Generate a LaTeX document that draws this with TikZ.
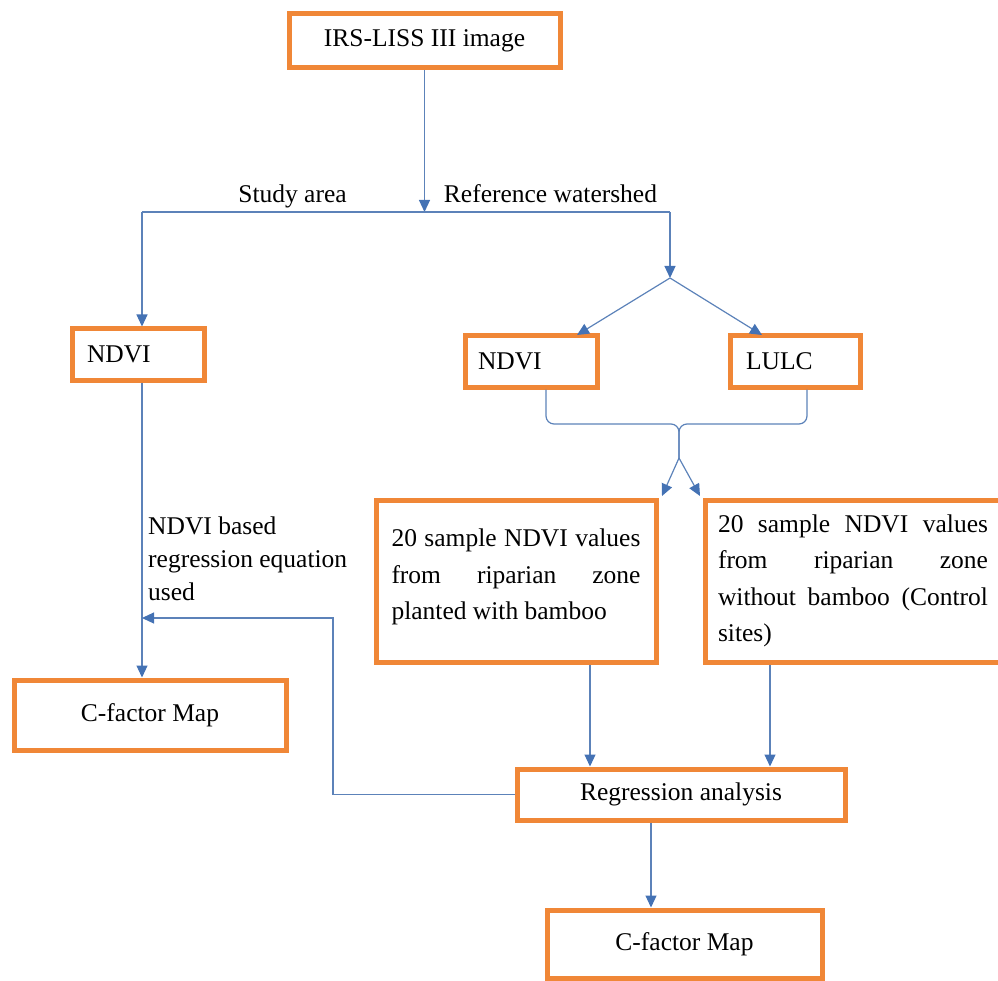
\documentclass[tikz,border=0pt]{standalone}
\usepackage{fontspec}
\setmainfont{Liberation Serif}
\newfontfamily\tnrfont{Liberation Serif}
\usetikzlibrary{arrows.meta}
\definecolor{boxorange}{RGB}{240,135,55}
\definecolor{lineblue}{RGB}{92,130,185}
\definecolor{tipblue}{RGB}{68,114,180}
\newcommand{\bxfont}{\tnrfont\fontsize{25.5}{36.5}\selectfont}
\tikzset{
  box/.style={draw=boxorange, line width=5pt, fill=white, rectangle,
    font=\bxfont, text=black, inner ysep=0pt},
  conn/.style={draw=lineblue, line width=1.2pt},
  arr/.style={conn, -{Triangle[length=12pt,width=11pt,color=tipblue]}},
  lbl/.style={font=\bxfont, text=black, inner sep=0pt},
}
\begin{document}
\begin{tikzpicture}[x=1pt,y=-1pt]
\useasboundingbox (0,0) rectangle (998,981);
\clip (0,0) rectangle (998,981);
% boxes
\node[box, minimum width=271pt, minimum height=54pt] (top) at (424.5,41) {\tnrfont IRS-LISS III image};
\node[box, text width=102pt, inner xsep=15pt, minimum height=51pt, align=left] (ndviL) at (138,354.5) {\tnrfont NDVI};
\node[box, text width=106pt, inner xsep=13pt, minimum height=51pt, align=left] (ndviM) at (531,361.5) {\tnrfont NDVI};
\node[box, text width=98pt, inner xsep=16pt, minimum height=51pt, align=left] (lulc) at (795,361.5) {\tnrfont LULC};
\node[box, text width=249pt, inner xsep=15.5pt, minimum height=162pt, align=justify] (s1) at (516,581)
  {\tnrfont 20 sample NDVI values\linebreak from riparian zone\linebreak planted with bamboo\vspace{8pt}};
\node[box, text width=270pt, inner xsep=13pt, minimum height=162pt, align=justify] (s2) at (853,581)
  {\tnrfont 20 sample NDVI values\linebreak from riparian zone\linebreak without bamboo (Control\linebreak sites)};
\node[box, minimum width=272pt, minimum height=70pt] (cfL) at (150,715) {\tnrfont C-factor Map};
\node[box, minimum width=328pt, minimum height=51pt] (reg) at (681,794.5) {\tnrfont Regression analysis};
\node[box, minimum width=275pt, minimum height=68pt] (cfR) at (684.5,944) {\tnrfont C-factor Map};
% junction coordinates
\coordinate (jT) at (424.5,212);
\coordinate (jL) at (142,212);
\coordinate (jR) at (670,212);
\coordinate (split) at (670,278);
\coordinate (merge) at (679,458);
\coordinate (tipA) at (662,496);
\coordinate (tipB) at (700,496);
\coordinate (tipN) at (577,335);
\coordinate (tipU) at (762,335);
\coordinate (bj) at (679,424);
\coordinate (xA) at (546,0);
\coordinate (xB) at (807,0);
\coordinate (xC) at (590,0);
\coordinate (xD) at (770,0);
\coordinate (xE) at (651,0);
\coordinate (fb1) at (333,794.5);
\coordinate (fb2) at (142,618);
% labels
\node[lbl, anchor=base] (studyarea) at (292.5,203) {\tnrfont Study area};
\node[lbl, anchor=base] (refws) at (550.5,203) {\tnrfont Reference watershed};
\node[lbl, anchor=north west, align=left, font=\tnrfont\fontsize{25.5}{33}\selectfont] (eqlbl) at (148,517) {NDVI based\\regression equation\\used};
% connectors
\draw[arr] (top.south -| jT) -- (jT);
\draw[conn] (jL) -- (jR);
\draw[arr] (jL) -- (jL |- ndviL.north);
\draw[arr] (jR) -- (split);
\draw[arr] (split) -- (tipN);
\draw[arr] (split) -- (tipU);
\draw[conn, rounded corners=8pt] (xA |- ndviM.south) |- (bj) -- (merge);
\draw[conn, rounded corners=8pt] (xB |- lulc.south) |- (bj) -- (merge);
\draw[arr] (merge) -- (tipA);
\draw[arr] (merge) -- (tipB);
\draw[arr] (jL |- ndviL.south) -- (jL |- cfL.north);
\draw[arr] (xC |- s1.south) -- (xC |- reg.north);
\draw[arr] (xD |- s2.south) -- (xD |- reg.north);
\draw[arr] (reg.west) -- (fb1) |- (fb2);
\draw[arr] (xE |- reg.south) -- (xE |- cfR.north);
\end{tikzpicture}
\end{document}
